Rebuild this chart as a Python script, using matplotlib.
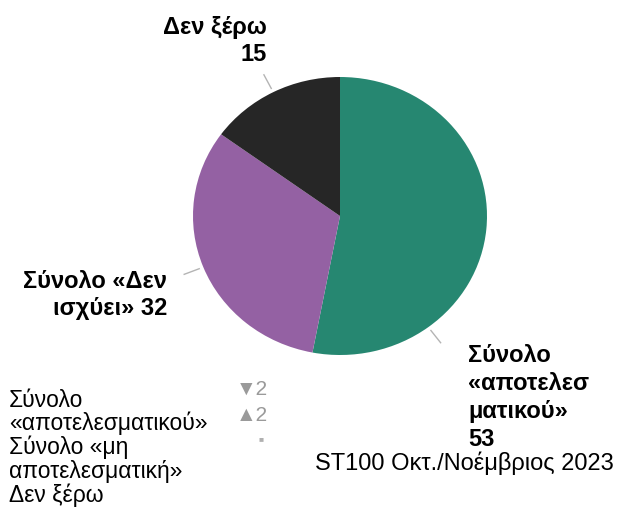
import numpy as np
import matplotlib
matplotlib.use("Agg")
import matplotlib.pyplot as plt

# data
labels = ["Σύνολο «αποτελεσματικού»", "Σύνολο «Δεν ισχύει»", "Δεν ξέρω"]
values = [53, 32, 15]
colors = ["#268771", "#9461a3", "#262626"]
legend_lines = ["Σύνολο", "«αποτελεσματικού»", "Σύνολο «μη",
                "αποτελεσματική»", "Δεν ξέρω"]
change_marks = ["▼2", "▲2", "■"]
source = "ST100 Οκτ./Νοέμβριος 2023"

W, H = 621, 513
plt.rcParams['font.family'] = ['Liberation Sans', 'DejaVu Sans']

fig = plt.figure(figsize=(W / 100, H / 100), dpi=100)


def fx(x):
    return x / W


def fy(y):
    return 1 - y / H


# pie box in pixels (slightly wider than tall, as in the reference)
ax = fig.add_axes([fx(193), fy(355), (487 - 193) / W, (355 - 77) / H])
wedges, _ = ax.pie(values, colors=colors, startangle=90, counterclock=False,
                   wedgeprops=dict(linewidth=0))
ax.set_aspect('auto')
ax.set_xlim(-1, 1)
ax.set_ylim(-1, 1)
ax.axis('off')

# leader lines (fraction along each wedge where the line sits)
leader_frac = [0.25, 0.5, 0.5]
for w, f in zip(wedges, leader_frac):
    a = np.deg2rad(w.theta1 + f * (w.theta2 - w.theta1))
    r = np.array([1.03, 1.14])
    ax.plot(r * np.cos(a), r * np.sin(a), color="#b4b4b4", lw=1,
            clip_on=False)


def lines(x, baselines, texts, ha, weight, size=17, color="black"):
    for t, b in zip(texts, baselines):
        fig.text(fx(x), fy(b), t, ha=ha, va='baseline', fontsize=size,
                 fontweight=weight, color=color)


# data labels
lines(267, [34, 61], ["Δεν ξέρω", str(values[2])], 'right', 'bold')
lines(167, [288, 315], ["Σύνολο «Δεν", "ισχύει» %d" % values[1]], 'right', 'bold')
lines(468, [362, 390, 418, 446],
      ["Σύνολο", "«αποτελεσ", "ματικού»", str(values[0])], 'left', 'bold')

# legend text (no swatches in the reference)
lines(9, [407, 430, 454, 478, 502], legend_lines, 'left', 'normal', size=16.5)

# faded change markers
lines(268, [395, 421], change_marks[:2], 'right', 'normal', size=15,
      color="#9a9a9a")
fig.text(fx(261), fy(439.5), change_marks[2], ha='center', va='center',
         fontsize=6, color="#b0b0b0")

# source
lines(315, [470], [source], 'left', 'normal')

fig.savefig("out.png", dpi=100)
